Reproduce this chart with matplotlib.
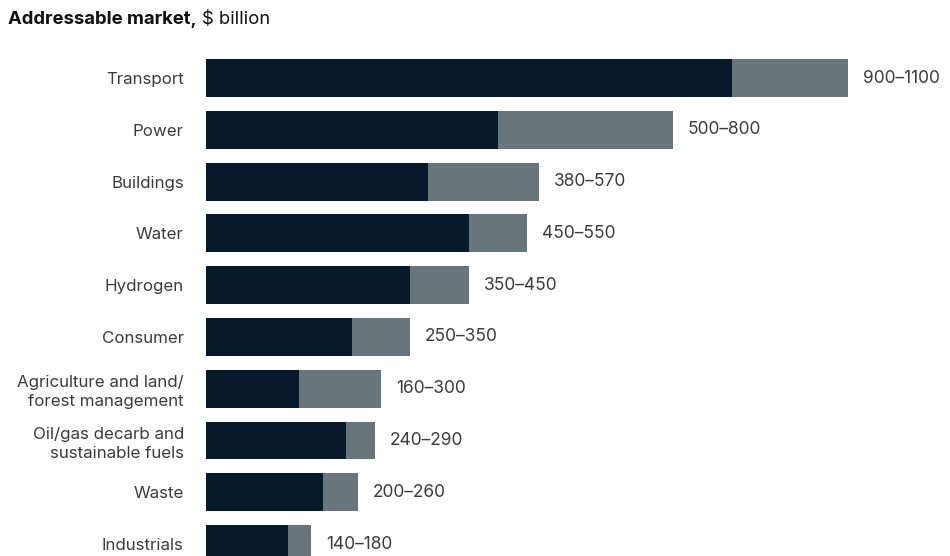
import matplotlib
matplotlib.use("Agg")
import matplotlib.pyplot as plt

# addressable market by sector, $ billion (low / high estimate)
sectors = ["Transport", "Power", "Buildings", "Water", "Hydrogen", "Consumer",
           "Agriculture and land/\nforest management",
           "Oil/gas decarb and\nsustainable fuels",
           "Waste", "Industrials"]
low = [900, 500, 380, 450, 350, 250, 160, 240, 200, 140]
high = [1100, 800, 570, 550, 450, 350, 300, 290, 260, 180]

dark = "#071a2b"
grey = "#68757d"
text_col = "#3c3c3c"

plt.rcParams['font.family'] = ['Inter', 'DejaVu Sans']

fig = plt.figure(figsize=(9.5, 5.56), dpi=100)
ax = fig.add_axes([206 / 950, 0, 744 / 950, 504 / 556])

pos = list(range(len(sectors)))
ax.barh(pos, low, height=0.73, color=dark)
ax.barh(pos, [h - l for h, l in zip(high, low)], left=low, height=0.73, color=grey)

for i in pos:
    ax.annotate("%d\u2013%d" % (low[i], high[i]), xy=(high[i], i), xytext=(10.5, 0),
                textcoords="offset points", va="center", ha="left",
                fontsize=12.5, color=text_col)

ax.set_xlim(0, 744 / 0.584)
ax.set_ylim(9.228, -0.502)
ax.set_yticks(pos)
ax.set_yticklabels(sectors, fontsize=12.2, color=text_col, linespacing=1.35)
ax.tick_params(axis="y", length=0, pad=16)
ax.set_xticks([])
for s in ax.spines.values():
    s.set_visible(False)

# title: bold part then regular unit
t1 = fig.text(8 / 950, 1 - 20 / 556, "Addressable market,", fontsize=13.3,
              fontweight="bold", color="#111111", va="center", ha="left")
fig.canvas.draw()
bb = t1.get_window_extent(fig.canvas.get_renderer())
fig.text((bb.x1 + 5) / 950, 1 - 20 / 556, "$ billion", fontsize=13.3,
         color="#111111", va="center", ha="left")

fig.savefig("out.png", dpi=100, facecolor="white")
